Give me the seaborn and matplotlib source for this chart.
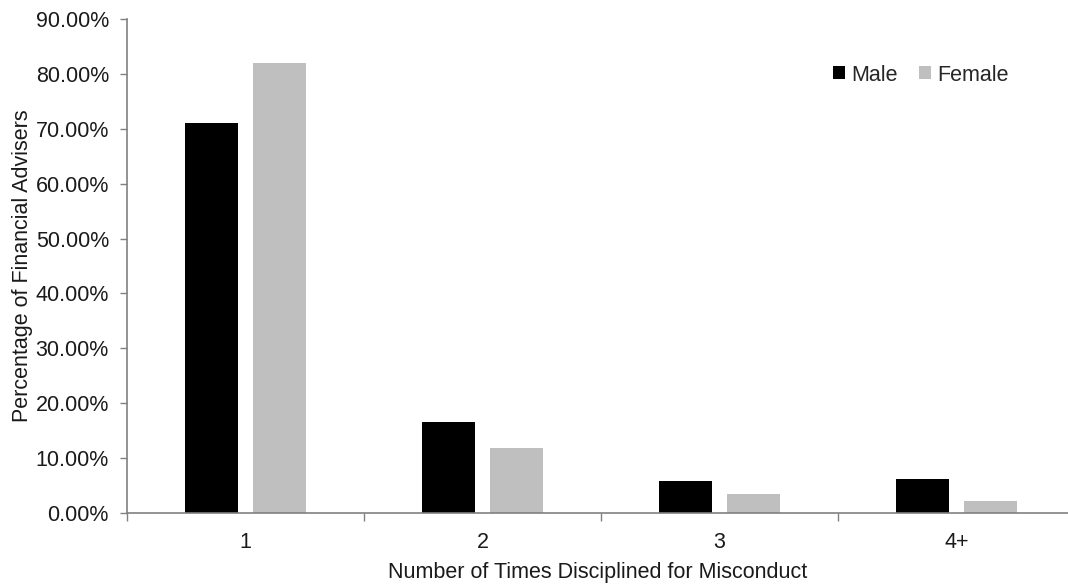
"""
Disciplinary events by gender: share of financial advisers by number of times disciplined.
"""
import numpy as np
import pandas as pd
import matplotlib
matplotlib.use('Agg')
import matplotlib.pyplot as plt
from matplotlib.ticker import FixedLocator, FuncFormatter
import seaborn as sns

categories = ['1', '2', '3', '4+']
genders = ['Male', 'Female']
male_pct = [71.0, 16.5, 5.8, 6.2]
female_pct = [82.0, 11.9, 3.5, 2.2]
y_ticks = [0, 10, 20, 30, 40, 50, 60, 70, 80, 90]

df = pd.DataFrame({
    'times': categories * 2,
    'gender': ['Male'] * len(categories) + ['Female'] * len(categories),
    'pct': male_pct + female_pct,
})

sns.set_theme(style='white')
plt.rcParams['font.family'] = ['Liberation Sans', 'DejaVu Sans']

W, H = 1068, 585
FS = 15.5
fig = plt.figure(figsize=(W / 100, H / 100), dpi=100)
ax = fig.add_axes([127 / W, 72 / H, (W - 127) / W, 494 / H])

sns.barplot(data=df, x='times', y='pct', hue='gender', order=categories,
            hue_order=genders, palette={'Male': '#000000', 'Female': '#BFBFBF'},
            width=0.57, gap=0.21, edgecolor='none', linewidth=0, ax=ax)

ax.set_ylim(0, 90)
ax.set_xlim(-0.5, -0.5 + (W - 127) / 237)
ax.yaxis.set_major_locator(FixedLocator(y_ticks))
ax.yaxis.set_major_formatter(FuncFormatter(lambda v, p: f'{v:.2f}%'))

# category separators as minor ticks, no marks at label positions
ax.xaxis.set_minor_locator(FixedLocator(np.arange(len(categories) + 1) - 0.5))
ax.tick_params(axis='x', which='major', length=0, pad=14, labelsize=FS, colors='#1a1a1a')
ax.tick_params(axis='x', which='minor', bottom=True, length=6, width=1, color='#808080', direction='out')
ax.tick_params(axis='y', which='major', left=True, length=5, width=1, color='#808080',
               direction='out', labelsize=FS, labelcolor='#1a1a1a', pad=8)

for s in ['top', 'right']:
    ax.spines[s].set_visible(False)
for s in ['left', 'bottom']:
    ax.spines[s].set_color('#808080')
    ax.spines[s].set_linewidth(1.2)

ax.set_xlabel('Number of Times Disciplined for Misconduct', fontsize=FS, color='#1a1a1a', labelpad=6)
ax.set_ylabel('Percentage of Financial Advisers', fontsize=FS, color='#1a1a1a', labelpad=1.5)

ax.legend(loc='upper right', bbox_to_anchor=(0.958, 0.947), ncol=2, frameon=False,
          fontsize=FS, handlelength=0.55, handleheight=0.55, handletextpad=0.3,
          columnspacing=1.0)

fig.savefig('out.png', dpi=100)
